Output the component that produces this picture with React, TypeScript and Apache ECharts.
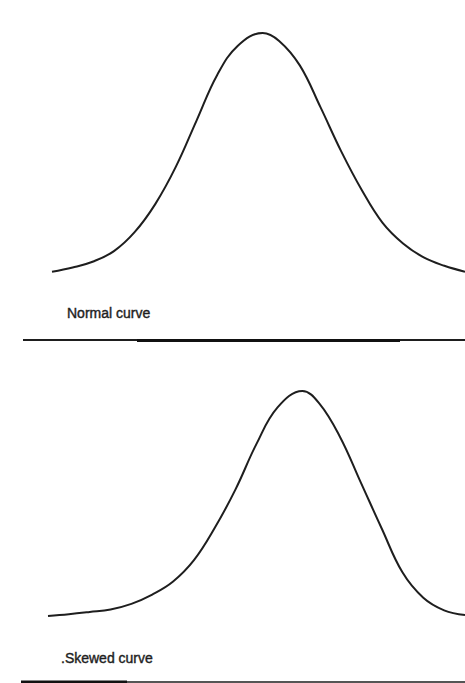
import React, { useEffect, useRef } from "react";
import * as echarts from "echarts";

// Score positions (0–100 across the frame) and relative frequencies (peak = 100)
const normalX = [0, 5, 10, 15, 20, 25, 30, 35, 40, 45, 51, 55, 60, 65, 70, 75, 80, 85, 90, 95, 100];
const normalY = [0.5, 2.3, 4.8, 9.1, 17, 28.7, 44.3, 63.5, 82.5, 94.7, 100, 96.7, 86.5, 69.1, 50.8, 34.6, 21.0, 12.3, 6.5, 3.0, 0.5];

const skewedX = [0, 5, 10, 15, 20, 25, 30, 35, 40, 45, 50, 55, 61, 65, 70, 75, 80, 85, 90, 95, 100];
const skewedY = [0, 0.8, 1.8, 2.9, 5.4, 9.5, 15.3, 24.8, 39.2, 56.4, 76.5, 92.6, 100, 94.6, 79.7, 59.4, 39, 19.4, 8.1, 2.5, 0.4];

const labels = ["Normal curve", "Skewed curve"];

const ink = "#1e1e1e";

export default function App() {
  const ref = useRef<HTMLDivElement>(null);

  useEffect(() => {
    if (!ref.current) return;
    const chart = echarts.init(ref.current, null, { renderer: "svg" });

    const pair = (xs: number[], ys: number[]) => xs.map((x, i) => [x, ys[i]]);
    const hiddenAxis = (gridIndex: number) => ({
      type: "value" as const,
      gridIndex,
      min: 0,
      max: 100,
      show: false,
    });
    const curve = (name: string, idx: number, data: number[][]) => ({
      name,
      type: "line" as const,
      xAxisIndex: idx,
      yAxisIndex: idx,
      data,
      smooth: 0.4,
      symbol: "none",
      lineStyle: { color: ink, width: 2 },
      silent: true,
    });
    const labelStyle = (text: string) => ({
      text,
      fill: ink,
      font: "14px 'Liberation Sans', Arial, sans-serif",
      verticalAlign: "middle" as const,
      stroke: ink,
      lineWidth: 0.4,
    });

    chart.setOption({
      animation: false,
      backgroundColor: "#ffffff",
      grid: [
        { left: 52, right: 0, top: 33, height: 240 },
        { left: 48, right: 0, top: 391, height: 225 },
      ],
      xAxis: [hiddenAxis(0), hiddenAxis(1)],
      yAxis: [hiddenAxis(0), hiddenAxis(1)],
      series: [
        curve(labels[0], 0, pair(normalX, normalY)),
        curve(labels[1], 1, pair(skewedX, skewedY)),
      ],
      graphic: [
        // rule under the first panel
        { type: "line", shape: { x1: 23, y1: 340, x2: 465, y2: 340 }, style: { stroke: ink, lineWidth: 2 } },
        { type: "line", shape: { x1: 137, y1: 340.5, x2: 400, y2: 340.5 }, style: { stroke: "#111", lineWidth: 3 } },
        // rule under the second panel
        { type: "line", shape: { x1: 21, y1: 682, x2: 465, y2: 682 }, style: { stroke: "#555", lineWidth: 2 } },
        { type: "line", shape: { x1: 21, y1: 682, x2: 127, y2: 682 }, style: { stroke: "#111", lineWidth: 3 } },
        { type: "text", x: 67, y: 313, style: labelStyle(labels[0]) },
        { type: "text", x: 61, y: 658, style: labelStyle("." + labels[1]) },
      ],
    });

    return () => chart.dispose();
  }, []);

  return (
    <div
      ref={ref}
      style={{ position: "fixed", left: 0, top: 0, width: 465, height: 683, background: "#fff" }}
    />
  );
}
